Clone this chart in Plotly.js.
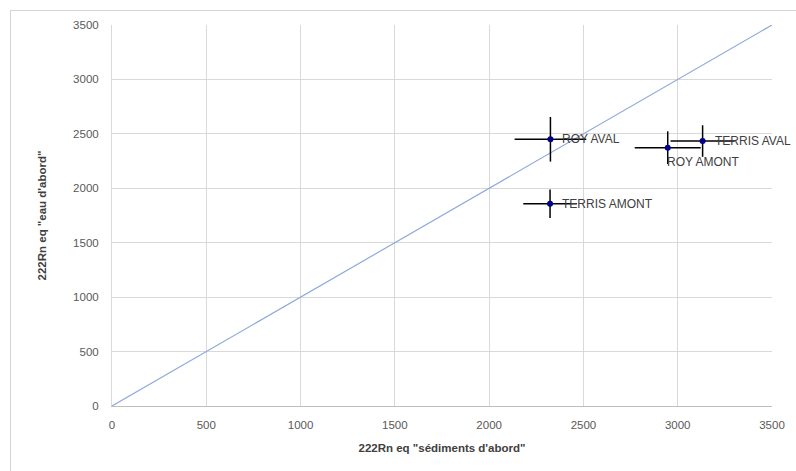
<!DOCTYPE html>
<html>
<head>
<meta charset="utf-8">
<script src="https://cdn.plot.ly/plotly-3.0.1.min.js"></script>
<style>
html,body{margin:0;padding:0;background:#fff;}
#wrap{position:relative;width:796px;height:471px;}
#chart{width:796px;height:471px;}
#frame{position:absolute;left:10px;top:10px;width:800px;height:480px;border-left:1px solid #d4d4d4;border-top:1px solid #d4d4d4;pointer-events:none;}
</style>
</head>
<body>
<div id="wrap"><div id="chart"></div><div id="frame"></div></div>
<script>
const labels = ["ROY AVAL", "ROY AMONT", "TERRIS AVAL", "TERRIS AMONT"];
const sediments = [2325, 2947, 3132, 2323];
const sedimentsErr = [190, 175, 170, 142];
const eau = [2450, 2373, 2434, 1858];
const eauErr = [205, 150, 145, 130];
const labelPos = ["right", "below", "right", "right"];
const diagX = [0, 3500];
const diagY = [0, 3500];

const font = "'Liberation Sans', Arial, sans-serif";

const traces = [
  {x: diagX, y: diagY, mode: "lines", line: {color: "#8faadc", width: 1.2}, hoverinfo: "skip", showlegend: false},
  {x: sediments, y: eau, mode: "markers", type: "scatter",
   marker: {color: "#00008b", size: 6},
   error_x: {type: "data", array: sedimentsErr, visible: true, color: "#000", thickness: 1.5, width: 0},
   error_y: {type: "data", array: eauErr, visible: true, color: "#000", thickness: 1.5, width: 0},
   showlegend: false}
];

const annotations = labels.map((t, i) => ({
  x: sediments[i], y: eau[i], text: t, showarrow: false,
  xanchor: "left", yanchor: labelPos[i] === "below" ? "top" : "middle",
  xshift: labelPos[i] === "below" ? -3 : 10, yshift: labelPos[i] === "below" ? -5 : 0,
  font: {family: font, size: 12, color: "#404040"}
}));

const layout = {
  width: 796, height: 471,
  margin: {l: 112, r: 24, t: 25, b: 65},
  paper_bgcolor: "#fff", plot_bgcolor: "#fff",
  font: {family: font, color: "#595959", size: 11},
  xaxis: {range: [0, 3500], dtick: 500, tick0: 0, showgrid: true, gridcolor: "#d9d9d9", gridwidth: 1,
          zeroline: false, showline: true, linecolor: "#bfbfbf", ticks: "", ticklabelstandoff: 8,
          tickfont: {family: font, size: 11.5, color: "#595959"},
          title: {text: "<b>222Rn eq \"sédiments d'abord\"</b>", font: {family: font, size: 11.5, color: "#404040"}, standoff: 14}},
  yaxis: {range: [0, 3500], dtick: 500, tick0: 0, showgrid: true, gridcolor: "#d9d9d9", gridwidth: 1,
          zeroline: false, showline: true, linecolor: "#d9d9d9", ticks: "", ticklabelstandoff: 10,
          tickfont: {family: font, size: 11.5, color: "#595959"},
          title: {text: "<b>222Rn eq \"eau d'abord\"</b>", font: {family: font, size: 11.5, color: "#404040"}, standoff: 24}},
  annotations: annotations,
  showlegend: false
};

Plotly.newPlot("chart", traces, layout, {displayModeBar: false, staticPlot: true});
</script>
</body>
</html>
